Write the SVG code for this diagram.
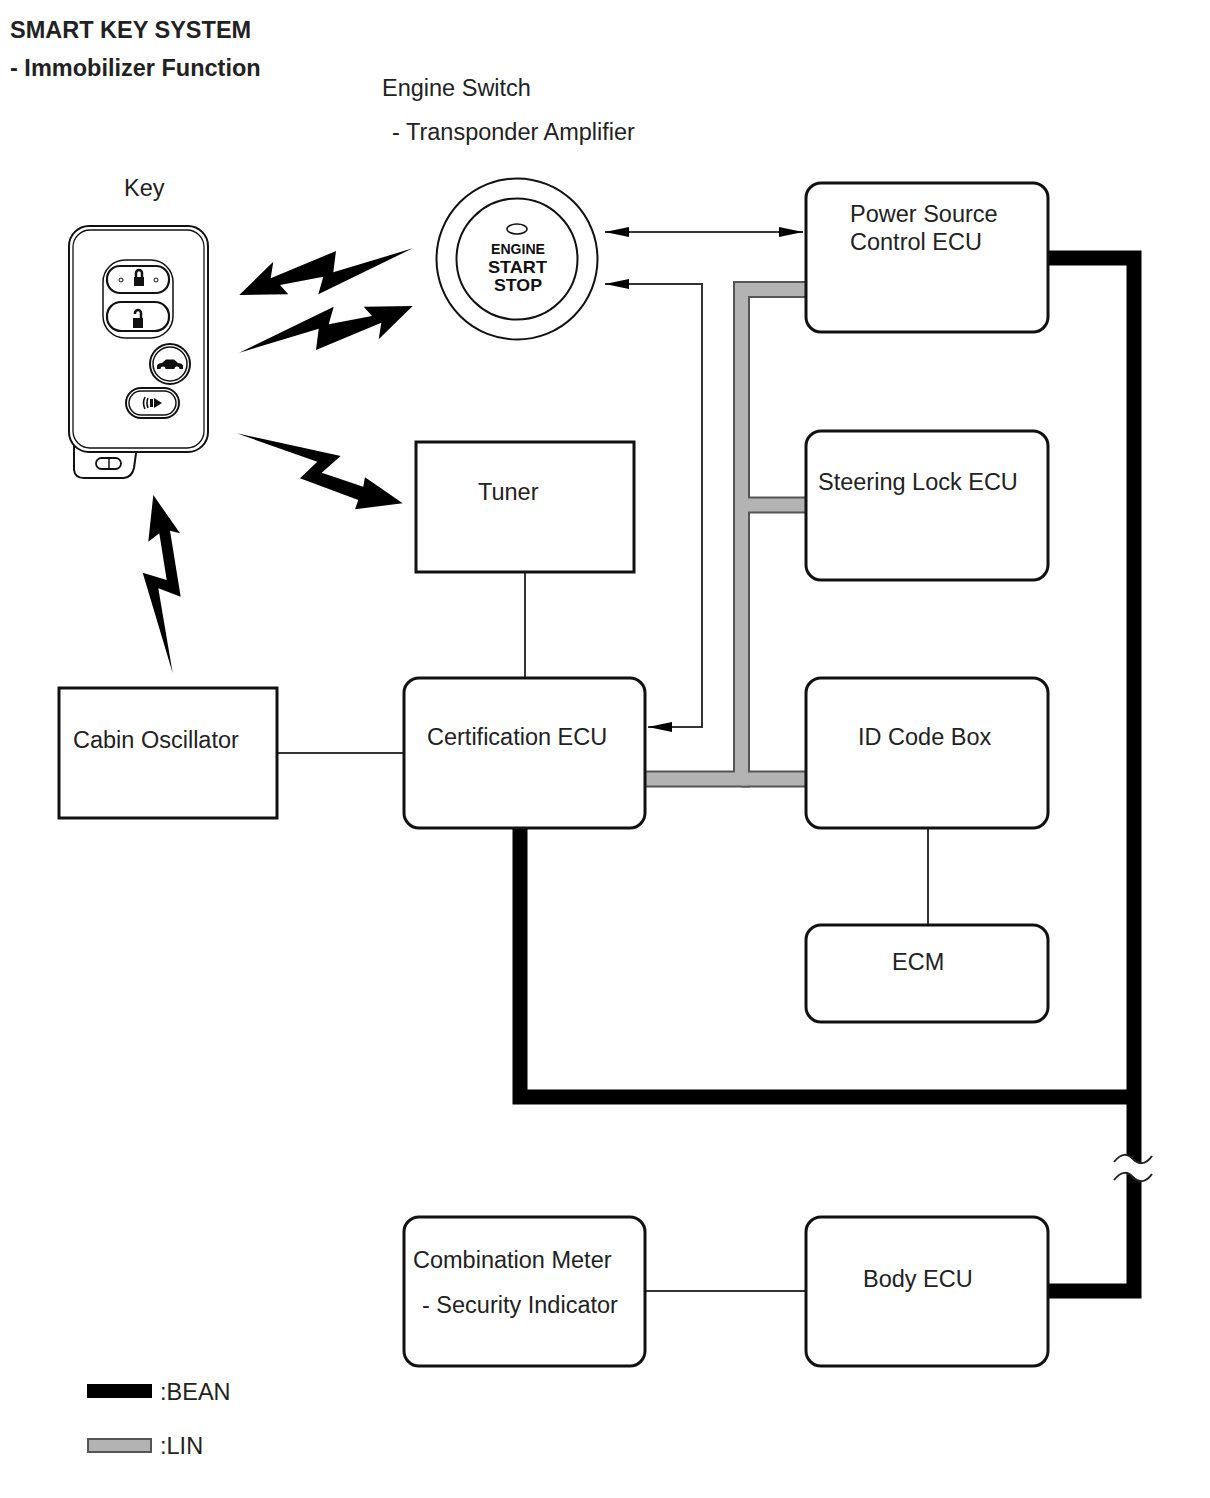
<svg xmlns="http://www.w3.org/2000/svg" width="1210" height="1498" viewBox="0 0 1210 1498">
<style>
.t{font-family:"Liberation Sans",Arial,sans-serif;font-size:23.5px;fill:#222}
.b{font-weight:bold}
.box{fill:#fff;stroke:#111;stroke-width:3}
.thin{stroke:#333;stroke-width:2;fill:none}
.bean{stroke:#000;stroke-width:15;fill:none;stroke-linejoin:miter}
.linout{stroke:#555;stroke-width:17;fill:none}
.linin{stroke:#b3b3b3;stroke-width:13;fill:none}
.bolt{fill:#000}
.k{fill:#fff;stroke:#111;stroke-width:2}
.sw{font-family:"Liberation Sans",Arial,sans-serif;font-weight:bold;fill:#111}
</style>
<defs>
<marker id="ah" viewBox="0 0 24 10" refX="24" refY="5" markerWidth="24" markerHeight="10" markerUnits="userSpaceOnUse" orient="auto-start-reverse"><path d="M0,0 L24,5 L0,10 Z" fill="#000"/></marker>
<polygon id="bolt1" points="239.3,295 273.3,261.7 270.7,278.3 336,251 333.3,272.3 412.7,248.3 318.3,294.3 323.3,276.7 280,285 288.3,294.3"/>
</defs>
<rect width="1210" height="1498" fill="#fff"/>

<g id="title">
<text class="t b" x="10" y="38">SMART KEY SYSTEM</text>
<text class="t b" x="10" y="76">- Immobilizer Function</text>
</g>

<g id="connectors">
<path class="thin" d="M605,232 H803" marker-start="url(#ah)" marker-end="url(#ah)"/>
<path class="thin" d="M605,284 H702 V727 H648" marker-start="url(#ah)" marker-end="url(#ah)"/>
<path class="thin" d="M525,572 V678"/>
<path class="thin" d="M277,753 H404"/>
<path class="thin" d="M928,828 V925"/>
<path class="thin" d="M645,1291 H806"/>
<g id="lin-bus">
<path class="linout" d="M806,289.5 H741.5 V779 H645"/>
<path class="linout" d="M741.5,505 H806"/>
<path class="linout" d="M741.5,779 H806"/>
<path class="linin" d="M806,289.5 H741.5 V779 H645"/>
<path class="linin" d="M741.5,505 H806"/>
<path class="linin" d="M741.5,779 H806"/>
</g>
<g id="bean-bus">
<path class="bean" d="M1046,258 H1134 V1291 H1046"/>
<path class="bean" d="M520,826 V1097 H1134"/>
<path fill="#fff" d="M1114,1162 C1122,1152 1128,1154 1133,1159 C1138,1164 1145,1166 1152,1156 L1152,1174 C1145,1184 1138,1182 1133,1177 C1128,1172 1122,1170 1114,1180 Z"/>
<path fill="none" stroke="#222" stroke-width="2" d="M1114,1162 C1122,1152 1128,1154 1133,1159 C1138,1164 1145,1166 1152,1156"/>
<path fill="none" stroke="#222" stroke-width="2" d="M1114,1180 C1122,1170 1128,1172 1133,1177 C1138,1182 1145,1184 1152,1174"/>
</g>
<g id="wireless">
<use href="#bolt1" class="bolt"/>
<use href="#bolt1" class="bolt" transform="translate(0,58) rotate(180 326 271.5)"/>
<polygon class="bolt" points="236.7,433.3 340.7,456 321.7,472.7 363.3,486.7 365,477.3 402.7,503.3 355,509.3 358.3,500 300,478.3 317.3,461.7"/>
<polygon class="bolt" points="153.3,495 180,533.3 170,530.7 180.7,596.7 158.3,588.3 172.7,673.3 142.7,572.7 166.7,580 159.3,533.3 148.3,541.7"/>
</g>
</g>

<g id="key">
<text class="t" x="124" y="196">Key</text>
<path class="k" d="M74,446 V470 Q75,478 84,478 H124 Q132,477 134,468 L137,446 Z"/>
<rect class="k" x="69" y="226" width="139" height="226" rx="20"/>
<rect x="73" y="230" width="131" height="218" rx="17" fill="none" stroke="#111" stroke-width="1.3"/>
<rect x="96" y="458" width="25" height="11" rx="5.5" fill="#fff" stroke="#111" stroke-width="1.8"/>
<line x1="109" y1="458" x2="109" y2="469" stroke="#111" stroke-width="1.5"/>
<rect x="103" y="260" width="70" height="78" rx="22" fill="#fff" stroke="#111" stroke-width="1.5"/>
<rect x="107" y="266" width="62" height="27" rx="13" fill="#fff" stroke="#111" stroke-width="2.2"/>
<rect x="107" y="302" width="62" height="29" rx="14" fill="#fff" stroke="#111" stroke-width="2.2"/>
<circle cx="121" cy="280" r="2" fill="none" stroke="#111" stroke-width="1"/>
<circle cx="156" cy="280" r="2" fill="none" stroke="#111" stroke-width="1"/>
<rect x="134" y="277" width="10" height="9" fill="#111"/>
<path d="M136,277 V273 A3,3 0 0 1 142,273 V277" fill="none" stroke="#111" stroke-width="2.5"/>
<rect x="133" y="318" width="10" height="10" fill="#111"/>
<path d="M141,318 V313 A3,3 0 0 0 135,313 V314" fill="none" stroke="#111" stroke-width="2.5"/>
<circle cx="170" cy="364" r="20" fill="#fff" stroke="#111" stroke-width="2"/>
<circle cx="170" cy="364" r="17" fill="none" stroke="#111" stroke-width="1.5"/>
<path d="M157,369 V365.5 Q158,363 162,363 L166,359.5 H174 L178,363 Q182,363 183,365.5 V369 Z" fill="#111"/>
<circle cx="163" cy="369" r="2.5" fill="#fff"/>
<circle cx="177" cy="369" r="2.5" fill="#fff"/>
<rect x="126" y="388" width="53" height="30" rx="15" fill="#fff" stroke="#111" stroke-width="2"/>
<rect x="129" y="391" width="47" height="24" rx="12" fill="none" stroke="#111" stroke-width="1.5"/>
<path d="M145,397 Q142,403 145,409 M148,398 Q146,403 148,408" fill="none" stroke="#111" stroke-width="1.6"/>
<rect x="150" y="399" width="3" height="8" fill="#111"/>
<polygon points="154,398 162,403 154,408" fill="#111"/>
</g>

<g id="engine-switch">
<text class="t" x="382" y="96">Engine Switch</text>
<text class="t" x="392" y="140">- Transponder Amplifier</text>
<circle cx="517" cy="259" r="80.5" fill="#fff" stroke="#111" stroke-width="2"/>
<circle cx="517" cy="259" r="60.5" fill="#fff" stroke="#111" stroke-width="2"/>
<ellipse cx="517" cy="229" rx="10" ry="5" fill="#fff" stroke="#111" stroke-width="1.5"/>
<text class="sw" x="491" y="254" font-size="14" textLength="54" lengthAdjust="spacingAndGlyphs">ENGINE</text>
<text class="sw" x="488" y="273" font-size="17" textLength="59" lengthAdjust="spacingAndGlyphs">START</text>
<text class="sw" x="494" y="291" font-size="17" textLength="48" lengthAdjust="spacingAndGlyphs">STOP</text>
</g>

<g id="power-source-ecu">
<rect class="box" x="806" y="183" width="242" height="149" rx="15"/>
<text class="t" x="850" y="222">Power Source</text>
<text class="t" x="850" y="250">Control ECU</text>
</g>

<g id="tuner">
<rect class="box" x="416" y="442" width="218" height="130"/>
<text class="t" x="478" y="500">Tuner</text>
</g>

<g id="steering-lock-ecu">
<rect class="box" x="806" y="431" width="242" height="149" rx="15"/>
<text class="t" x="818" y="490">Steering Lock ECU</text>
</g>

<g id="cabin-oscillator">
<rect class="box" x="59" y="688" width="218" height="130"/>
<text class="t" x="73" y="748">Cabin Oscillator</text>
</g>

<g id="certification-ecu">
<rect class="box" x="404" y="678" width="241" height="150" rx="15"/>
<text class="t" x="427" y="745">Certification ECU</text>
</g>

<g id="id-code-box">
<rect class="box" x="806" y="678" width="242" height="150" rx="15"/>
<text class="t" x="858" y="745">ID Code Box</text>
</g>

<g id="ecm">
<rect class="box" x="806" y="925" width="242" height="97" rx="15"/>
<text class="t" x="892" y="970">ECM</text>
</g>

<g id="combination-meter">
<rect class="box" x="404" y="1217" width="241" height="149" rx="15"/>
<text class="t" x="413" y="1268">Combination Meter</text>
<text class="t" x="422" y="1313">- Security Indicator</text>
</g>

<g id="body-ecu">
<rect class="box" x="806" y="1217" width="242" height="149" rx="15"/>
<text class="t" x="863" y="1287">Body ECU</text>
</g>

<g id="legend">
<rect x="87" y="1384" width="65" height="14" fill="#000"/>
<text class="t" x="160" y="1400">:BEAN</text>
<rect x="88" y="1439" width="63" height="13" fill="#b3b3b3" stroke="#555" stroke-width="2"/>
<text class="t" x="160" y="1454">:LIN</text>
</g>
</svg>
